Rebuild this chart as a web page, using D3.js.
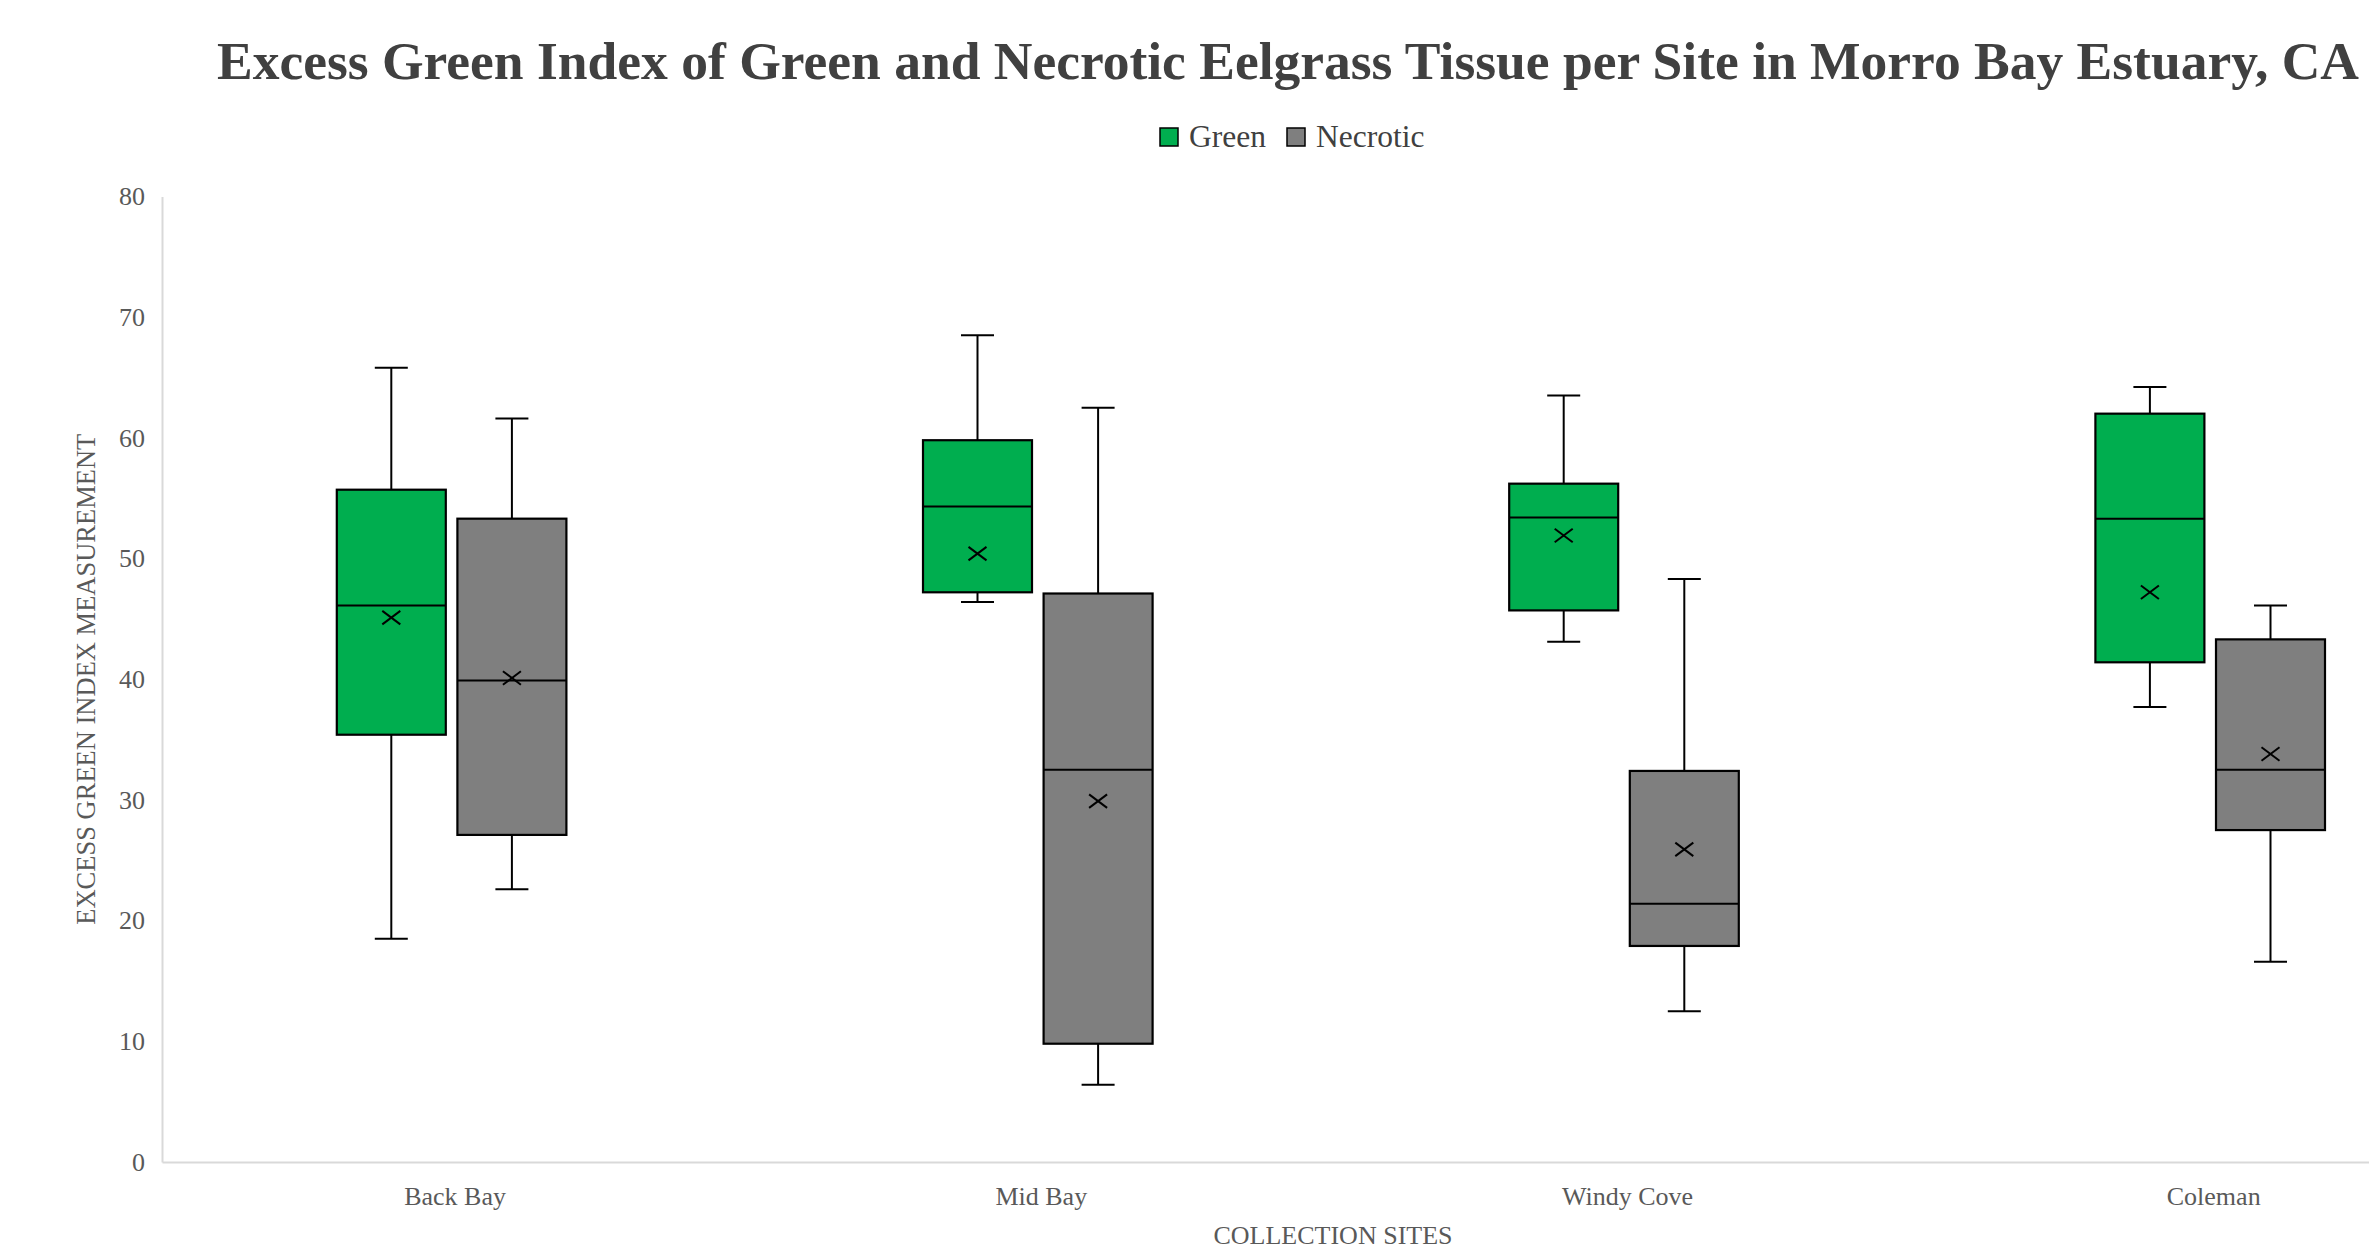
<!DOCTYPE html>
<html><head><meta charset="utf-8">
<script src="https://cdn.jsdelivr.net/npm/d3@7"></script>
<style>body{margin:0;background:#fff;overflow:hidden}</style>
</head><body>
<svg id="c" width="2369" height="1252"></svg>
<script>
const sites = ["Back Bay", "Mid Bay", "Windy Cove", "Coleman"];
const seriesNames = ["Green", "Necrotic"];
const seriesColors = ["#00AE4F", "#7F7F7F"];
const yTicks = [0, 10, 20, 30, 40, 50, 60, 70, 80];
// [min, q1, median, q3, max, mean] per site
const greenStats = [
  [18.5, 35.4, 46.1, 55.7, 65.8, 45.1],
  [46.4, 47.2, 54.3, 59.8, 68.5, 50.4],
  [43.1, 45.7, 53.4, 56.2, 63.5, 51.9],
  [37.7, 41.4, 53.3, 62.0, 64.2, 47.2]
];
const necroticStats = [
  [22.6, 27.1, 39.9, 53.3, 61.6, 40.1],
  [6.4, 9.8, 32.5, 47.1, 62.5, 29.9],
  [12.5, 17.9, 21.4, 32.4, 48.3, 25.9],
  [16.6, 27.5, 32.5, 43.3, 46.1, 33.8]
];

const svg = d3.select("#c");
const plotLeft = 162, plotBottom = 1162, plotTop = 196.4, band = 586.2;
const x = d3.scaleBand().domain(sites).range([plotLeft, plotLeft + band * sites.length]).padding(0);
const y = d3.scaleLinear().domain([0, 80]).range([plotBottom, plotTop]);
const boxW = 109, gap = 11.6, groupShift = -3.5;
const xs = d3.scaleOrdinal().domain(seriesNames).range([-(boxW + gap) / 2, (boxW + gap) / 2]);
const serif = "'Liberation Serif','Times New Roman',serif";

// title
svg.append("text").attr("x", 1288).attr("y", 79).attr("text-anchor", "middle")
  .attr("font-family", serif).attr("font-weight", "bold").attr("font-size", 53.5)
  .attr("fill", "#404040")
  .text("Excess Green Index of Green and Necrotic Eelgrass Tissue per Site in Morro Bay Estuary, CA");

// legend
const leg = svg.append("g");
const legX = [1160, 1287];
seriesNames.forEach((s, i) => {
  leg.append("rect").attr("x", legX[i]).attr("y", 128).attr("width", 18).attr("height", 18)
    .attr("fill", seriesColors[i]).attr("stroke", "#000").attr("stroke-width", 1.5);
  leg.append("text").attr("x", legX[i] + 29).attr("y", 147).attr("font-family", serif)
    .attr("font-size", 31.5).attr("fill", "#404040").text(s);
});

// axes
const ya = svg.append("g").attr("transform", `translate(${plotLeft},0)`)
  .call(d3.axisLeft(y).tickValues(yTicks).tickSize(0).tickPadding(17));
ya.select(".domain").attr("stroke", "#D9D9D9").attr("stroke-width", 2);
ya.selectAll("text").attr("font-family", serif).attr("font-size", 26).attr("fill", "#595959");

const xa = svg.append("g").attr("transform", `translate(0,${plotBottom})`)
  .call(d3.axisBottom(x).tickSize(0).tickPadding(25));
xa.select(".domain").attr("stroke", "#D9D9D9").attr("stroke-width", 2);
xa.selectAll("text").attr("font-family", serif).attr("font-size", 26).attr("fill", "#595959");

// axis titles
svg.append("text").attr("transform", `translate(95,${(plotTop + plotBottom) / 2}) rotate(-90)`)
  .attr("text-anchor", "middle").attr("font-family", serif).attr("font-size", 26.5)
  .attr("fill", "#595959").text("EXCESS GREEN INDEX MEASUREMENT");
svg.append("text").attr("x", 1333).attr("y", 1244).attr("text-anchor", "middle")
  .attr("font-family", serif).attr("font-size", 26).attr("fill", "#595959")
  .text("COLLECTION SITES");

// boxes
const allStats = [greenStats, necroticStats];
const capW = 33, mk = 9;
allStats.forEach((stats, si) => {
  const g = svg.append("g");
  stats.forEach((d, i) => {
    const cx = x(sites[i]) + x.bandwidth() / 2 + groupShift + xs(seriesNames[si]);
    const [mn, q1, md, q3, mx, mean] = d;
    const line = (x1, y1, x2, y2) => g.append("line").attr("x1", x1).attr("y1", y1)
      .attr("x2", x2).attr("y2", y2).attr("stroke", "#000").attr("stroke-width", 2);
    line(cx, y(mx), cx, y(q3));
    line(cx, y(q1), cx, y(mn));
    line(cx - capW / 2, y(mx), cx + capW / 2, y(mx));
    line(cx - capW / 2, y(mn), cx + capW / 2, y(mn));
    g.append("rect").attr("x", cx - boxW / 2).attr("y", y(q3)).attr("width", boxW)
      .attr("height", y(q1) - y(q3)).attr("fill", seriesColors[si])
      .attr("stroke", "#000").attr("stroke-width", 2.2);
    line(cx - boxW / 2, y(md), cx + boxW / 2, y(md));
    const my = y(mean);
    line(cx - mk, my - mk * 0.75, cx + mk, my + mk * 0.75);
    line(cx - mk, my + mk * 0.75, cx + mk, my - mk * 0.75);
  });
});
</script>
</body></html>
